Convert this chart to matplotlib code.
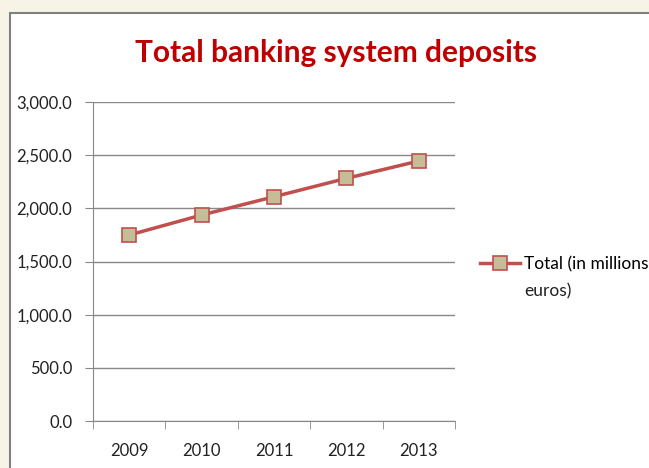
import matplotlib
matplotlib.use("Agg")
import matplotlib.pyplot as plt
from matplotlib.patches import Rectangle
from matplotlib.lines import Line2D
from matplotlib.ticker import FuncFormatter, FixedLocator
import numpy as np

years = ["2009", "2010", "2011", "2012", "2013"]
totals = [1749, 1937, 2109, 2282, 2445]
series_label_lines = ["Total (in millions", "euros)"]
title = "Total banking system deposits"

plt.rcParams['font.family'] = ['Lato', 'DejaVu Sans']

W, H = 649, 468
fig = plt.figure(figsize=(W/100, H/100), dpi=100)
fig.patch.set_facecolor('#F7F4E7')
fig.patches.append(Rectangle((10/W, -0.1), 1.1, 1 - 13/H + 0.1, transform=fig.transFigure,
                             facecolor='white', edgecolor='#808080', linewidth=1.5, zorder=-5))

ax = fig.add_axes([93/W, 1 - 421/H, (455 - 93)/W, (421 - 102)/H])
ax.set_zorder(2)
ax.set_facecolor('none')
x = np.arange(len(years))
line_kw = dict(color='#C0504D', linewidth=2.5, marker='s', markersize=9.5,
               markerfacecolor='#C4BD97', markeredgecolor='#C0504D', markeredgewidth=1.2)
ax.plot(x, totals, zorder=3, **line_kw)
ax.set_xlim(-0.5, len(years) - 0.5)
ax.set_ylim(0, 3000)
ax.set_yticks(np.arange(0, 3001, 500))
ax.yaxis.set_major_formatter(FuncFormatter(lambda v, p: f"{v:,.1f}"))
ax.set_xticks(x)
ax.set_xticklabels(years)
ax.xaxis.set_minor_locator(FixedLocator(np.arange(-0.5, len(years), 1.0)))
ax.tick_params(axis='x', which='major', length=0, pad=16, labelsize=12, colors='#222222')
ax.tick_params(axis='x', which='minor', length=6, color='#888888')
ax.tick_params(axis='y', length=6, color='#888888', labelsize=12, labelcolor='#222222', pad=9)
ax.grid(axis='y', color='#888888', linewidth=1.0)
for s in ['top', 'right']:
    ax.spines[s].set_visible(False)
for s in ['left', 'bottom']:
    ax.spines[s].set_color('#888888')
ax.set_axisbelow(True)

t = fig.text(336/W, 1 - 53/H, title, ha='center', va='center', fontsize=21.5,
             fontweight='bold', color='#C00000')
t.set_zorder(3)

# legend (handle aligned with first line of the label, as in the original)
handle = Line2D([], [], **line_kw)
leg = fig.legend([handle], [series_label_lines[0]], loc='center left',
                 bbox_to_anchor=(480/W, 1 - 264/H), frameon=False, fontsize=12.5,
                 handlelength=2.3, handletextpad=0.25, borderaxespad=0, borderpad=0)
leg.set_zorder(3)
fig.canvas.draw()
tb = leg.get_texts()[0].get_window_extent()
fig.text(tb.x0 / W, (1 - 291/H), series_label_lines[1], ha='left', va='center',
         fontsize=12.5, color='#222222', zorder=3)

fig.savefig("out.png", dpi=100, facecolor=fig.get_facecolor())
